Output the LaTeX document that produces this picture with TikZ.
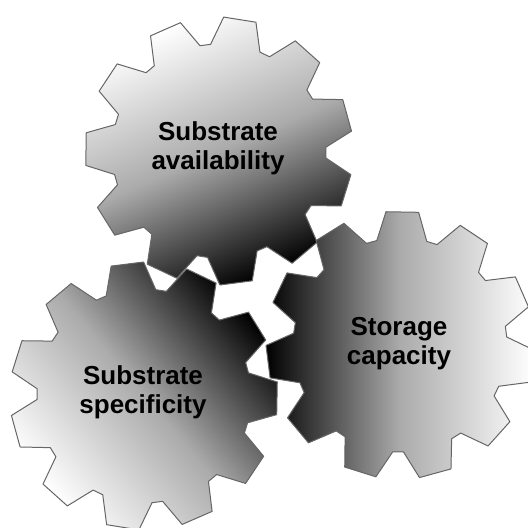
\documentclass[tikz,border=0pt]{standalone}
\usepackage{fontspec}
\setmainfont{Liberation Sans}
\tikzstyle{gear} = [draw=black!60, line width=1pt, line join=round]
\tikzstyle{geartext} = [font=\bfseries\fontsize{26}{29}\selectfont, align=center, text=black]

\begin{document}
\begin{tikzpicture}[x=1pt, y=-1pt]
\useasboundingbox (0,0) rectangle (528,528);
\clip (0,0) rectangle (528,528);
% three 11-tooth gears: centre x / centre y / first tooth angle / shading angle
\foreach \cx/\cy/\ph/\sh in {219/151/-81/23.5, 144/396/1/130, 400/345/-89/-90} {
  \begin{scope}[shift={(\cx,\cy)}]
    \path [gear, top color=white, bottom color=black, middle color=black!33, shading angle=\sh]
      (\ph-13.5:107)
      \foreach \k [evaluate=\k as \a using \ph+\k*360/11] in {0,...,10} {
        -- (\a-13.5:107) -- (\a-7:134) -- (\a+7:134) -- (\a+13.5:107)
      } -- cycle;
  \end{scope}
}
\node [geartext] (availability) at (218,148) {Substrate\\availability};
\node [geartext] (specificity) at (143,392) {Substrate\\specificity};
\node [geartext] (storage) at (399,344) {Storage\\capacity};
\end{tikzpicture}
\end{document}
